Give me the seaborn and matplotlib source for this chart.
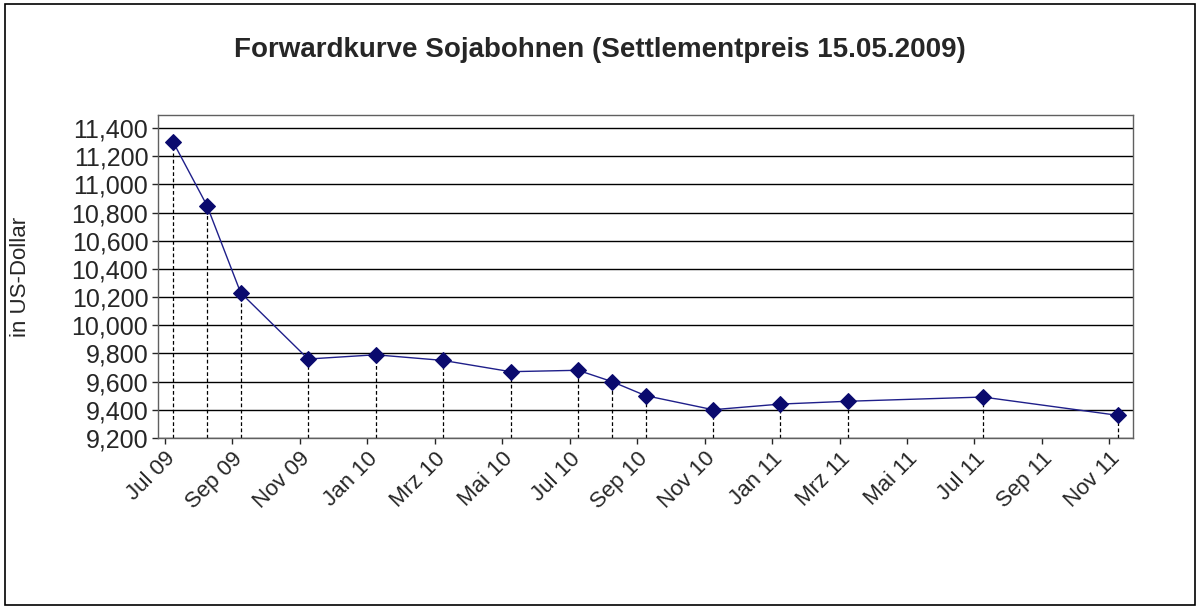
import matplotlib
matplotlib.use("Agg")
import matplotlib.pyplot as plt
import seaborn as sns
import pandas as pd
from matplotlib.ticker import FuncFormatter, MultipleLocator

sns.set_style("white")
plt.rcParams['font.family'] = ['Liberation Sans', 'DejaVu Sans']

# month index from Jul 09 (0) and settlement prices
months = [0, 1, 2, 4, 6, 8, 10, 12, 13, 14, 16, 18, 20, 24, 28]
prices = [11300, 10850, 10230, 9760, 9790, 9750, 9670, 9680, 9600, 9500, 9400, 9440, 9460, 9490, 9360]
tick_labels = ["Jul 09", "Sep 09", "Nov 09", "Jan 10", "Mrz 10", "Mai 10", "Jul 10", "Sep 10",
               "Nov 10", "Jan 11", "Mrz 11", "Mai 11", "Jul 11", "Sep 11", "Nov 11"]

df = pd.DataFrame({"x": [m + 0.25 for m in months], "y": prices})

fig = plt.figure(figsize=(12, 6.09), dpi=100)
ax = fig.add_axes([0.1317, 0.281, 0.8125, 0.530])
ymin, ymax = 9200, 11492
ax.set_ylim(ymin, ymax)
ax.set_xlim(-0.2, 28.7)

ax.yaxis.set_major_locator(MultipleLocator(200))
ax.grid(axis='y', color='black', linewidth=1)
ax.set_axisbelow(True)

ax.vlines(df["x"], ymin, df["y"], colors='black', linestyles=(0, (3, 2)), linewidth=0.9)
sns.lineplot(data=df, x="x", y="y", ax=ax, color='#1f1f8a', linewidth=1,
             marker='D', markersize=8, markerfacecolor='#0a0a6e', markeredgecolor='#0a0a6e')

ax.set_xticks(range(0, 29, 2))
ax.set_xticklabels(tick_labels, rotation=45, ha='right', rotation_mode='anchor', fontsize=16)
ax.yaxis.set_major_formatter(FuncFormatter(lambda v, p: f"{int(v):,}"))
ax.tick_params(axis='y', labelsize=18, left=True, length=4, width=1, pad=3)
ax.tick_params(axis='x', bottom=True, length=4, width=1)
for s in ax.spines.values():
    s.set_color('#606060')
    s.set_linewidth(1)
ax.set_xlabel("")
ax.set_ylabel("in US-Dollar", fontsize=16)
ax.yaxis.set_label_coords(-0.13, 0.5)

fig.text(0.5, 0.918, "Forwardkurve Sojabohnen (Settlementpreis 15.05.2009)",
         ha='center', va='center', fontsize=20, fontweight='bold')
fig.patches.append(plt.Rectangle((0.004, 0.006), 0.992, 0.988, transform=fig.transFigure,
                                 fill=False, edgecolor='black', linewidth=1.2))
fig.savefig("out.png", dpi=100)
